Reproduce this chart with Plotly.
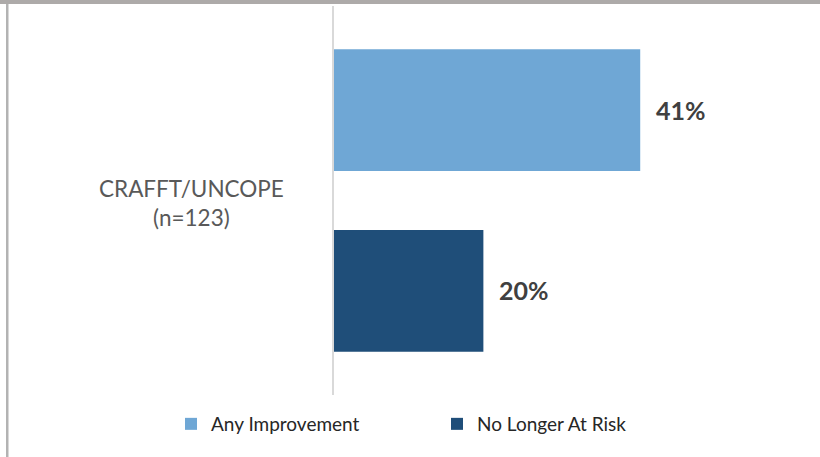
import plotly.graph_objects as go

category = "CRAFFT/UNCOPE<br>(n=123)"
series_names = ["Any Improvement", "No Longer At Risk"]
series_values = [0.41, 0.20]
bar_colors = ["#6fa7d5", "#1f4e79"]

W, H = 820, 457
ML, MR, MT, MB = 334, 8, 6, 62
pw = W - ML - MR
ph = H - MT - MB

def px_x(x):
    return (x - ML) / pw

def px_y(y):
    return (H - MB - y) / ph

fig = go.Figure()
offsets = [0.076, -0.389]
yshifts = [90, -90]
for name, val, col, off in zip(series_names, series_values, bar_colors, offsets):
    fig.add_trace(go.Bar(
        x=[val], y=[category], orientation="h", name=name,
        marker=dict(color=col, line=dict(width=0)),
        width=0.313, offset=off, hoverinfo="skip",
    ))

for name, val, ys in zip(series_names, series_values, yshifts):
    fig.add_annotation(
        x=val, y=category, xref="x", yref="y", text=f"<b>{val:.0%}</b>",
        showarrow=False, xanchor="left", yanchor="middle", xshift=14, yshift=ys + 1,
        font=dict(family="Lato", size=25, color="#404040"),
    )

fig.add_annotation(
    x=px_x(191), y=category, xref="paper", yref="y", text=category,
    showarrow=False, xanchor="center", yanchor="middle", align="center", yshift=-2,
    font=dict(family="Lato", size=22.5, color="#595959"),
)

# outer border
fig.add_shape(type="rect", xref="paper", yref="paper",
              x0=px_x(0), x1=px_x(W), y0=px_y(4), y1=px_y(0),
              fillcolor="#adaaa9", line=dict(width=0), layer="above")
fig.add_shape(type="rect", xref="paper", yref="paper",
              x0=px_x(6), x1=px_x(8.5), y0=px_y(H), y1=px_y(4),
              fillcolor="#b3b3b3", line=dict(width=0), layer="above")

fig.update_layout(
    width=W, height=H,
    margin=dict(l=ML, r=MR, t=MT, b=MB),
    paper_bgcolor="white", plot_bgcolor="white",
    barmode="overlay",
    showlegend=True,
    legend=dict(orientation="h", x=px_x(171), xanchor="left", y=px_y(424), yanchor="middle",
                font=dict(family="Lato", size=19, color="#262626"),
                entrywidth=221, entrywidthmode="pixels", traceorder="normal"),
    xaxis=dict(range=[0, 0.64], showgrid=False, zeroline=False, showticklabels=False,
               showline=False, fixedrange=True),
    yaxis=dict(range=[-0.5, 0.5], showgrid=False, zeroline=False, showticklabels=False,
               showline=True, linecolor="#d9d9d9", linewidth=2, ticks=""),
)

fig.write_html("out.html")
